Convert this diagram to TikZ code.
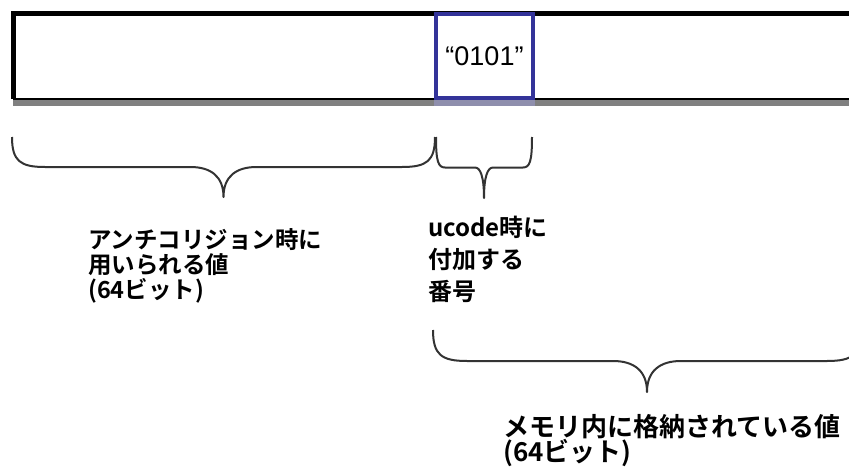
\documentclass[tikz,border=0pt]{standalone}
\usepackage{fontspec}
\setmainfont{Liberation Sans}
\newfontfamily\jpfont{Noto Sans CJK JP}[BoldFont={* Bold}]
\definecolor{boxblue}{RGB}{51,51,153}
\tikzset{
  frameline/.style={line width=5pt, draw=black},
  bracepath/.style={line width=2pt, draw=black!80, line join=round},
  jplabel/.style={anchor=north west, inner sep=0pt, align=left, font=\jpfont\bfseries},
  bluebox/.style={draw=boxblue, line width=4.5pt, fill=white, minimum width=97pt, minimum height=84pt, inner sep=0pt, font=\fontsize{27}{30}\selectfont}
}
% brace: x0, x1, y0 (top), d (depth to bar), r (curl length)
\newcommand{\mybrace}[5]{%
  \pgfmathsetmacro{\xm}{(#1+#2)/2}%
  \draw[bracepath] (#1,#3) .. controls (#1,#3+0.8*#4) and (#1+0.25*#5,#3+#4) .. (#1+#5,#3+#4)
    -- (\xm-#5,#3+#4) .. controls (\xm-0.4*#5,#3+#4) and (\xm,#3+1.3*#4) .. (\xm,#3+2*#4)
    .. controls (\xm,#3+1.3*#4) and (\xm+0.4*#5,#3+#4) .. (\xm+#5,#3+#4)
    -- (#2-#5,#3+#4) .. controls (#2-0.25*#5,#3+#4) and (#2,#3+0.8*#4) .. (#2,#3);}
\begin{document}
\begin{tikzpicture}[x=1pt,y=-1pt]
\useasboundingbox (0,0) rectangle (849,471);
% memory frame
\fill[black!50] (13,100) rectangle (860,106);
\draw[line width=2.5pt] (13,99) -- (860,99);
\draw[frameline] (13,99) -- (13,13.5) -- (860,13.5);
% blue box
\fill[boxblue!60!black!50] (434,100) rectangle (535,106);
\node[bluebox] (code) at (484.5,56) {“0101”};
% braces
\mybrace{12}{435}{137}{30}{33}
\mybrace{436}{532}{137}{30.5}{9}
\mybrace{433}{861}{330}{31}{34}
% labels
\node[jplabel, font=\jpfont\bfseries\fontsize{23.5}{25}\selectfont] (lab1) at (88,228) {アンチコリジョン時に\\用いられる値\\(64ビット)};
\node[jplabel, font=\jpfont\bfseries\fontsize{24}{32}\selectfont] (lab2) at (428,216) {ucode時に\\付加する\\番号};
\node[jplabel, font=\jpfont\bfseries\fontsize{26}{25}\selectfont] (lab3) at (503,414) {メモリ内に格納されている値\\(64ビット)};
\end{tikzpicture}
\end{document}
